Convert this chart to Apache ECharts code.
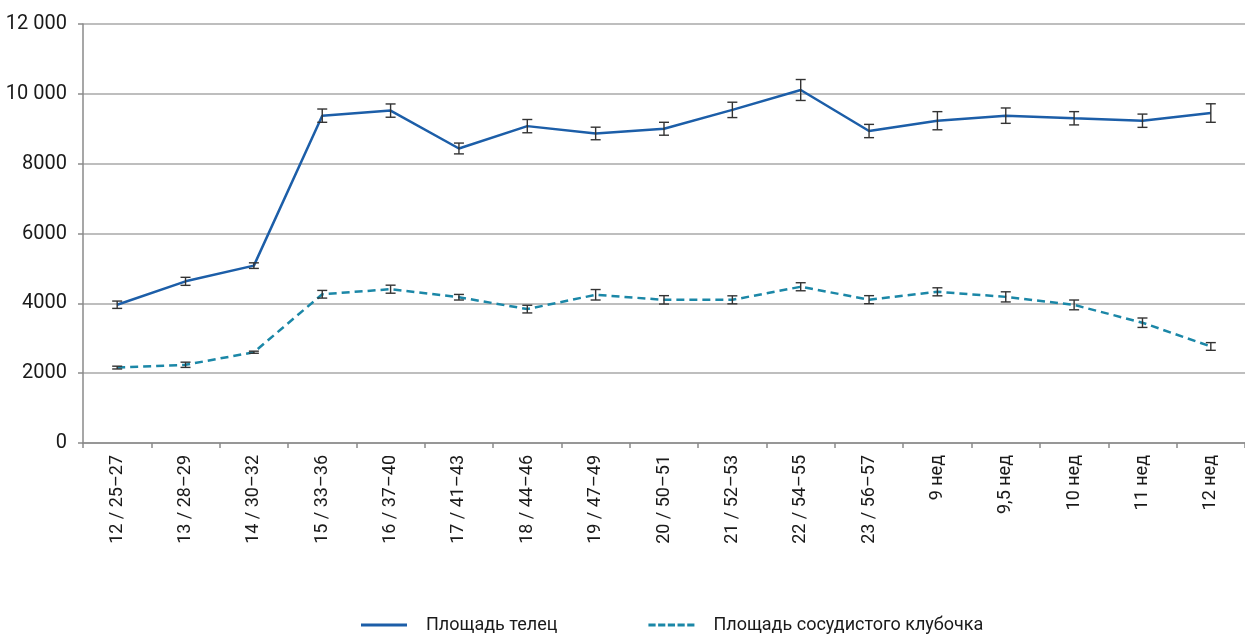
<!DOCTYPE html>
<html>
<head>
<meta charset="utf-8">
<script src="https://cdn.jsdelivr.net/npm/echarts@6/dist/echarts.min.js"></script>
<style>
html,body{margin:0;padding:0;background:#fff;}
#chart{width:1245px;height:634px;}
</style>
</head>
<body>
<div id="chart"></div>
<script>
const categories = ['12 / 25–27','13 / 28–29','14 / 30–32','15 / 33–36','16 / 37–40','17 / 41–43','18 / 44–46','19 / 47–49','20 / 50–51','21 / 52–53','22 / 54–55','23 / 56–57','9 нед','9,5 нед','10 нед','11 нед','12 нед'];
const seriesNames = ['Площадь телец','Площадь сосудистого клубочка'];
const bodyArea = [3960,4630,5080,9375,9520,8435,9075,8865,9000,9540,10110,8935,9230,9375,9300,9230,9450];
const bodyErr  = [105,115,80,190,190,155,190,180,185,220,300,190,260,220,190,190,265];
const glomArea = [2160,2240,2600,4260,4405,4175,3835,4245,4100,4100,4475,4105,4330,4185,3955,3445,2765];
const glomErr  = [40,75,30,110,115,80,110,150,120,115,115,115,115,145,140,135,110];
const yTicks = ['0','2000','4000','6000','8000','10 000','12 000'];

function errSeries(vals, errs) {
  return {
    type: 'custom',
    silent: true,
    z: 5,
    data: vals.map((v, i) => [i, v - errs[i], v + errs[i]]),
    renderItem: function (params, api) {
      const lo = api.coord([api.value(0), api.value(1)]);
      const hi = api.coord([api.value(0), api.value(2)]);
      const hw = 5;
      const st = { stroke: '#333333', lineWidth: 1.4 };
      return {
        type: 'group',
        children: [
          { type: 'line', shape: { x1: lo[0], y1: lo[1], x2: hi[0], y2: hi[1] }, style: st },
          { type: 'line', shape: { x1: lo[0]-hw, y1: lo[1], x2: lo[0]+hw, y2: lo[1] }, style: st },
          { type: 'line', shape: { x1: hi[0]-hw, y1: hi[1], x2: hi[0]+hw, y2: hi[1] }, style: st }
        ]
      };
    },
    encode: { x: 0, y: [1, 2] }
  };
}

const solidIcon = 'path://M0,0 L46,0 L46,3 L0,3 Z';
const dashIcon = 'path://M0,0 L7.2,0 L7.2,3 L0,3 Z M9.7,0 L16.9,0 L16.9,3 L9.7,3 Z M19.4,0 L26.6,0 L26.6,3 L19.4,3 Z M29.1,0 L36.3,0 L36.3,3 L29.1,3 Z M38.8,0 L46,0 L46,3 L38.8,3 Z';

const chart = echarts.init(document.getElementById('chart'), null, { renderer: 'canvas' });
const font = 'Roboto, "DejaVu Sans", sans-serif';
chart.setOption({
  animation: false,
  grid: { left: 83, top: 24, right: -4, bottom: 191, containLabel: false },
  legend: {
    left: 356,
    top: 611,
    itemWidth: 46,
    itemHeight: 3,
    itemGap: 91,
    textStyle: { fontFamily: font, fontSize: 18, color: '#1a1a1a', padding: [0, 0, 0, 14] },
    data: [
      { name: seriesNames[0], icon: solidIcon, itemStyle: { color: '#1c5ea8' } },
      { name: seriesNames[1], icon: dashIcon, itemStyle: { color: '#1b87a7' } }
    ]
  },
  xAxis: {
    type: 'category',
    data: categories,
    boundaryGap: true,
    axisLine: { lineStyle: { color: '#8a8a8a', width: 1.5 } },
    axisTick: { show: true, length: 5, lineStyle: { color: '#8a8a8a', width: 1.5 } },
    axisLabel: { rotate: 90, margin: 12, fontFamily: font, fontSize: 18, color: '#1a1a1a' }
  },
  yAxis: {
    type: 'value',
    min: 0, max: 12000, interval: 2000,
    axisLine: { show: true, lineStyle: { color: '#8a8a8a', width: 1.5 } },
    axisTick: { show: true, length: 5, lineStyle: { color: '#8a8a8a', width: 1.5 } },
    splitLine: { lineStyle: { color: '#a8a8a8', width: 1.5 } },
    axisLabel: {
      margin: 16, fontFamily: font, fontSize: 20, color: '#1a1a1a',
      formatter: function (v) { return yTicks[Math.round(v / 2000)]; }
    }
  },
  series: [
    {
      name: seriesNames[0], type: 'line', data: bodyArea, symbol: 'none',
      lineStyle: { color: '#1c5ea8', width: 2.5 }, itemStyle: { color: '#1c5ea8' }, z: 3
    },
    {
      name: seriesNames[1], type: 'line', data: glomArea, symbol: 'none',
      lineStyle: { color: '#1b87a7', width: 2.5, type: [8, 5] }, itemStyle: { color: '#1b87a7' }, z: 3
    },
    errSeries(bodyArea, bodyErr),
    errSeries(glomArea, glomErr)
  ]
});
</script>
</body>
</html>
